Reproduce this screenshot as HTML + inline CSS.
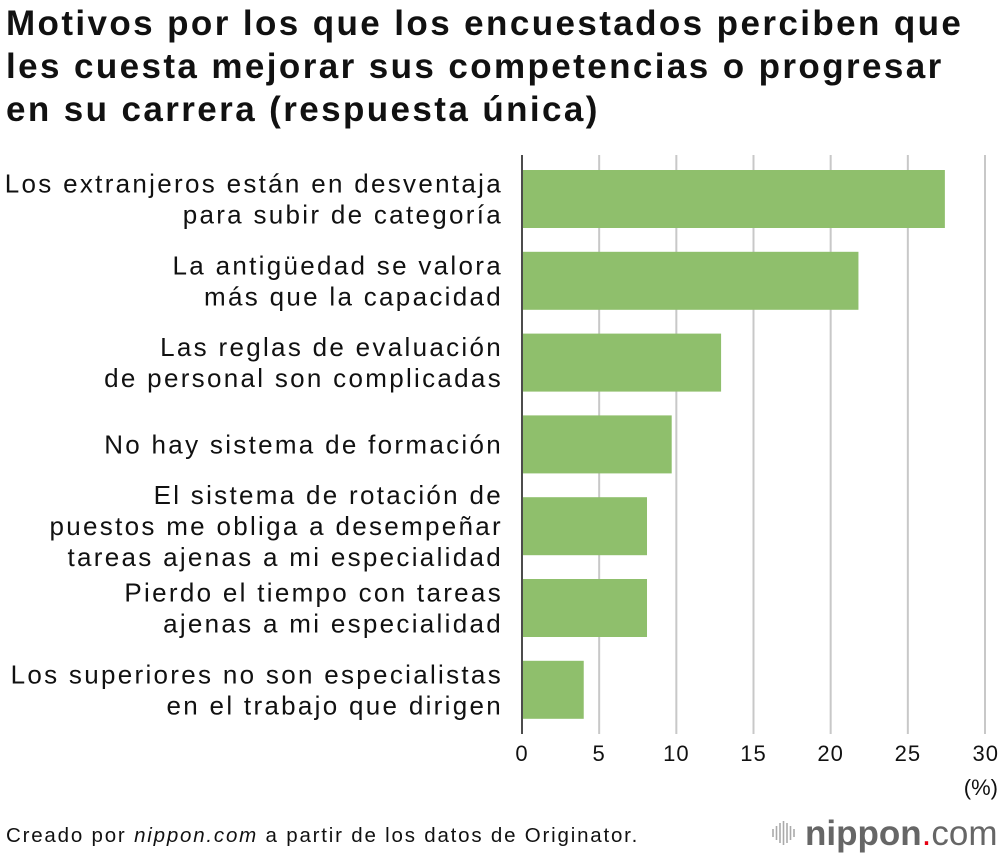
<!DOCTYPE html>
<html><head><meta charset="utf-8"><style>
body{margin:0;background:#fff;font-family:"Liberation Sans",Arial,sans-serif;}
#wrap{position:relative;width:1000px;height:858px;overflow:hidden;}
h1{position:absolute;left:6px;top:2px;margin:0;font-size:35px;line-height:43px;font-weight:bold;color:#111;letter-spacing:2.4px;white-space:nowrap;}
.foot{position:absolute;left:6px;top:824px;font-size:20.5px;color:#111;letter-spacing:1.8px;}
</style></head><body>
<div id="wrap">
<h1>Motivos por los que los encuestados perciben que<br>les cuesta mejorar sus competencias o progresar<br>en su carrera (respuesta única)</h1>
<svg id="chart" width="1000" height="858" style="position:absolute;left:0;top:0"></svg>
<div class="foot">Creado por <i>nippon.com</i> a partir de los datos de Originator.</div>
</div>
<script>
const categories=[
["Los extranjeros están en desventaja","para subir de categoría"],
["La antigüedad se valora","más que la capacidad"],
["Las reglas de evaluación","de personal son complicadas"],
["No hay sistema de formación"],
["El sistema de rotación de","puestos me obliga a desempeñar","tareas ajenas a mi especialidad"],
["Pierdo el tiempo con tareas","ajenas a mi especialidad"],
["Los superiores no son especialistas","en el trabajo que dirigen"]];
const values=[27.4,21.8,12.9,9.7,8.1,8.1,4.0];
const ticks=[0,5,10,15,20,25,30];
const NS="http://www.w3.org/2000/svg";
const svg=document.getElementById('chart');
const x0=522,x1=985,xmax=30;
const xs=v=>x0+(x1-x0)*v/xmax;
const top0=170,pitch=81.8,bh=58;
const ys=i=>top0+i*pitch;
function mk(t,a){const e=document.createElementNS(NS,t);for(const k in a)e.setAttribute(k,a[k]);svg.appendChild(e);return e;}
ticks.forEach((t,i)=>{
 if(t>0){const g=mk('line',{x1:xs(t),x2:xs(t),y1:155,y2:734,stroke:'#c8c8c8','stroke-width':2});
 
 }
 const last=i==ticks.length-1;
 const tx=mk('text',{x:last?xs(t)+14:xs(t),y:761,'font-size':22,'letter-spacing':1,'text-anchor':last?'end':'middle',fill:'#111'});
 tx.textContent=t;
 
 
});
const ax=mk('line',{x1:x0,x2:x0,y1:155,y2:734,stroke:'#111','stroke-width':1.5});


const unit=mk('text',{x:998,y:795,'font-size':22,'text-anchor':'end',fill:'#111'});
unit.textContent='(%)';


values.forEach((v,i)=>{
 const r=mk('rect',{x:x0+1,y:ys(i),width:xs(v)-x0-1,height:bh,fill:'#8fbf6c'});
 
 
 const lines=categories[i];const cy=ys(i)+bh/2;const lh=31;
 lines.forEach((l,j)=>{
  const t=mk('text',{x:503,y:cy+(j-(lines.length-1)/2)*lh+9,'font-size':26,'letter-spacing':2.3,'text-anchor':'end',fill:'#111'});
  t.textContent=l;
  
  
 });
});
const lg=mk('g',{});


[0,1,2,3,4,5,6].forEach(k=>{const h=[8,14,20,24,20,14,8][k];const l=document.createElementNS(NS,'line');l.setAttribute('x1',773+k*3.5);l.setAttribute('x2',773+k*3.5);l.setAttribute('y1',833-h/2);l.setAttribute('y2',833+h/2);l.setAttribute('stroke','#aaa');l.setAttribute('stroke-width',1.6);lg.appendChild(l);});
const lt=document.createElementNS(NS,'text');lt.setAttribute('x',805);lt.setAttribute('y',845);lt.setAttribute('font-size',35);lt.setAttribute('fill','#666');
lt.innerHTML='<tspan font-weight="bold">nippon</tspan><tspan fill="#e60012">.</tspan><tspan>com</tspan>';
lg.appendChild(lt);
</script>
</body></html>
